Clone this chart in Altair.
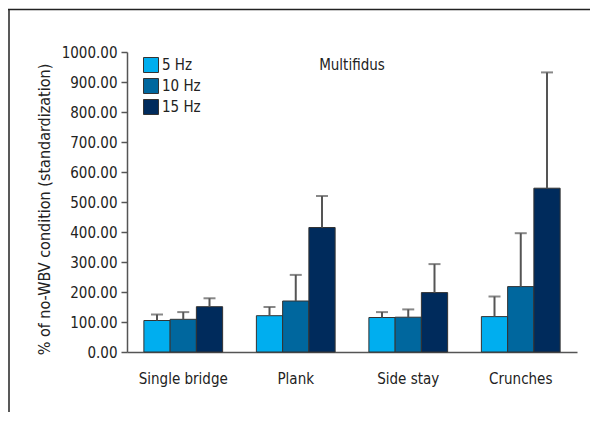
import altair as alt
import pandas as pd

exercises = ["Single bridge", "Plank", "Side stay", "Crunches"]
freqs = ["5 Hz", "10 Hz", "15 Hz"]
mean_5 = [105, 121, 115, 118]
mean_10 = [109, 170, 116, 218]
mean_15 = [151, 415, 198, 546]
sd_5 = [20, 29, 18, 67]
sd_10 = [24, 87, 26, 178]
sd_15 = [28, 105, 95, 386]
colors = ["#00AEEF", "#00679E", "#002B5C"]
y_ticks = [0, 100, 200, 300, 400, 500, 600, 700, 800, 900, 1000]
chart_title = "Multifidus"
y_title = "% of no-WBV condition (standardization)"

FONT = "DejaVu Sans Condensed, Liberation Sans Narrow, sans-serif"
FS = 15

rows = []
for f, means, sds in zip(freqs, [mean_5, mean_10, mean_15], [sd_5, sd_10, sd_15]):
    for ex, m, s in zip(exercises, means, sds):
        rows.append({"exercise": ex, "freq": f, "mean": m, "upper": m + s})
df = pd.DataFrame(rows)

y_axis = alt.Axis(
    values=y_ticks, format=".2f", tickSize=6, labelPadding=4,
    domainColor="#555", domainWidth=1.5, tickColor="#555", tickWidth=1.5,
    grid=False, labelFontSize=FS, labelColor="#222", labelFont=FONT,
    labelOverlap=False, labelBound=False, tickCount=11,
    title=y_title, titleFontSize=16, titleFontWeight="normal",
    titleFont=FONT, titleColor="#222", titleX=-83, titleY=157,
    titleAngle=270, titleAlign="center", titleBaseline="middle",
)
y_scale = alt.Scale(domain=[0, 1000], nice=False)

base = alt.Chart(df).encode(
    x=alt.X(
        "exercise:N",
        sort=exercises,
        scale=alt.Scale(paddingInner=0.3, paddingOuter=0.15),
        axis=alt.Axis(
            title=None, labelAngle=0, ticks=False, labelPadding=19,
            domainColor="#555", domainWidth=1.5, labelFontSize=FS,
            labelColor="#222", labelFont=FONT, labelOverlap=False,
        ),
    ),
    xOffset=alt.XOffset("freq:N", sort=freqs, scale=alt.Scale(paddingInner=0, paddingOuter=0)),
)

bars = base.mark_bar(stroke="#333", strokeWidth=1).encode(
    y=alt.Y("mean:Q", scale=y_scale, axis=y_axis),
    color=alt.Color(
        "freq:N", sort=freqs,
        scale=alt.Scale(domain=freqs, range=colors),
        legend=alt.Legend(
            title=None, orient="none", legendX=16, legendY=5,
            symbolType="square", symbolSize=225, symbolStrokeColor="#333",
            symbolStrokeWidth=1, symbolOpacity=1, labelFontSize=FS,
            labelFont=FONT, labelColor="#222", rowPadding=1, labelOffset=3,
        ),
    ),
)

err = base.mark_rule(color="#555", strokeWidth=2).encode(
    y=alt.Y("mean:Q", scale=y_scale, axis=y_axis), y2="upper:Q"
)
caps = base.mark_tick(color="#555", orient="horizontal", size=12, thickness=2).encode(
    y=alt.Y("upper:Q", scale=y_scale, axis=y_axis)
)

one = pd.DataFrame({"a": [0]})
frame_left = alt.Chart(one).mark_rule(color="#222", strokeWidth=1.5).encode(
    x=alt.value(-118), y=alt.value(-43), y2=alt.value(370)
)
frame_top = alt.Chart(one).mark_rule(color="#222", strokeWidth=1.5).encode(
    x=alt.value(-119), x2=alt.value(470), y=alt.value(-42.5)
)
title_txt = alt.Chart(one).mark_text(
    fontSize=FS, font=FONT, color="#222", baseline="middle", align="center"
).encode(x=alt.value(225), y=alt.value(13), text=alt.value(chart_title))

chart = alt.layer(bars, err, caps, frame_left, frame_top, title_txt).properties(
    width=450, height=300,
    padding={"left": 119, "top": 44, "right": 13, "bottom": 60},
    autosize=alt.AutoSizeParams(type="none"),
).configure_view(stroke=None)

chart.save("out.html", embed_options={"renderer": "svg", "actions": False})
